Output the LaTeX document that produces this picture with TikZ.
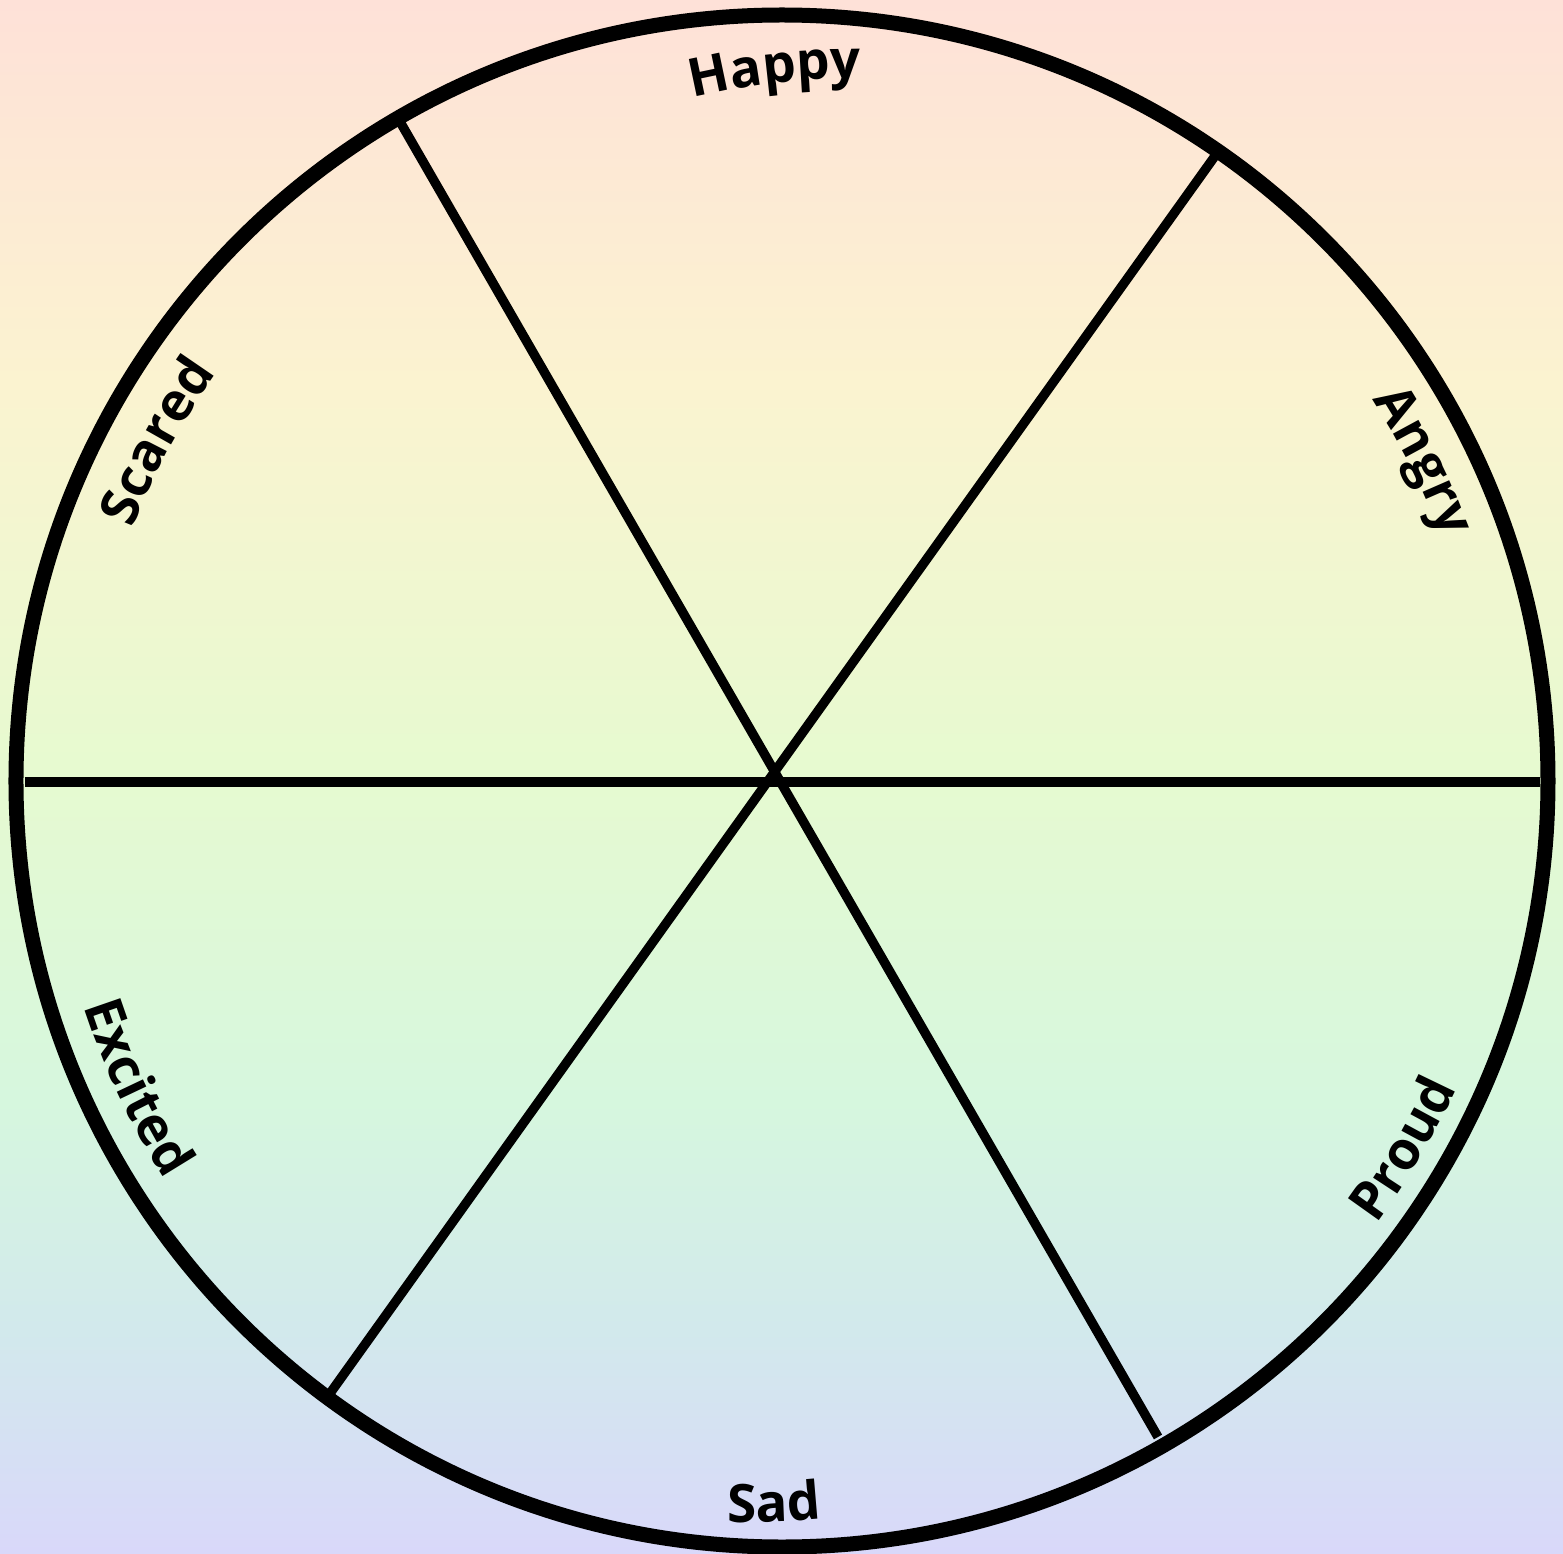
\documentclass[tikz,border=0pt]{standalone}
\usepackage{fontspec}
\newfontfamily\lblfamily{Open Sans}
\usetikzlibrary{decorations.text}
\definecolor{bgA}{RGB}{254,225,216}
\definecolor{bgB}{RGB}{251,243,208}
\definecolor{bgC}{RGB}{231,250,208}
\definecolor{bgD}{RGB}{214,247,222}
\definecolor{bgE}{RGB}{210,233,236}
\definecolor{bgF}{RGB}{217,216,250}
\newcommand\lblfont{\lblfamily\bfseries\fontsize{26.5pt}{30pt}\selectfont}
\begin{document}
\begin{tikzpicture}[x=0.5pt,y=0.5pt,
  rim/.style={line width=7.5pt},
  spoke/.style={line width=4.7pt},
  band/.style={draw=none}]
\useasboundingbox (-782,-772) rectangle (781,781);
% background gradient bands
\fill[band, top color=bgA, bottom color=bgB] (-782,781) rectangle (781,400);
\fill[band, top color=bgB, bottom color=bgC] (-782,401) rectangle (781,20);
\fill[band, top color=bgC, bottom color=bgD] (-782,21) rectangle (781,-318);
\fill[band, top color=bgD, bottom color=bgE] (-782,-319) rectangle (781,-548);
\fill[band, top color=bgE, bottom color=bgF] (-782,-549) rectangle (781,-772);
% spoke end points
\coordinate (O) at (0,0);
\coordinate (h1) at (-757,-1);
\coordinate (h2) at (758,-1);
\coordinate (a1) at (-387,668);
\coordinate (a2) at (376,-656);
\coordinate (b1) at (433,625);
\coordinate (b2) at (-451,-611);
\draw[spoke] (h1) -- (h2);
\draw[spoke] (a1) -- (a2);
\draw[spoke] (b1) -- (b2);
\draw[rim] (O) circle[radius=766];
% labels (upper half: clockwise, lower half: counter-clockwise)
\path[rotate around={6:(90.6:713)}, decorate, decoration={text along path, text align=center, text={|\lblfont|Happy}}]
  (115.6:698) arc[start angle=115.6, end angle=65.6, radius=698];
\path[decorate, decoration={text along path, text align=center, text={|\lblfont|Angry}}]
  (51.5:703) arc[start angle=51.5, end angle=1.5, radius=703];
\path[decorate, decoration={text along path, text align=center, text={|\lblfont|Scared}}]
  (176.5:697) arc[start angle=176.5, end angle=126.5, radius=697];
\path[rotate around={3:(-90.6:726)}, decorate, decoration={text along path, text align=center, text={|\lblfont|Sad}}]
  (-115.6:741) arc[start angle=-115.6, end angle=-65.6, radius=741];
\path[decorate, decoration={text along path, text align=center, text={|\lblfont|Proud}}]
  (-55.6:741) arc[start angle=-55.6, end angle=-5.6, radius=741];
\path[decorate, decoration={text along path, text align=center, text={|\lblfont|Excited}}]
  (-179.6:734) arc[start angle=-179.6, end angle=-129.6, radius=734];
\end{tikzpicture}
\end{document}
